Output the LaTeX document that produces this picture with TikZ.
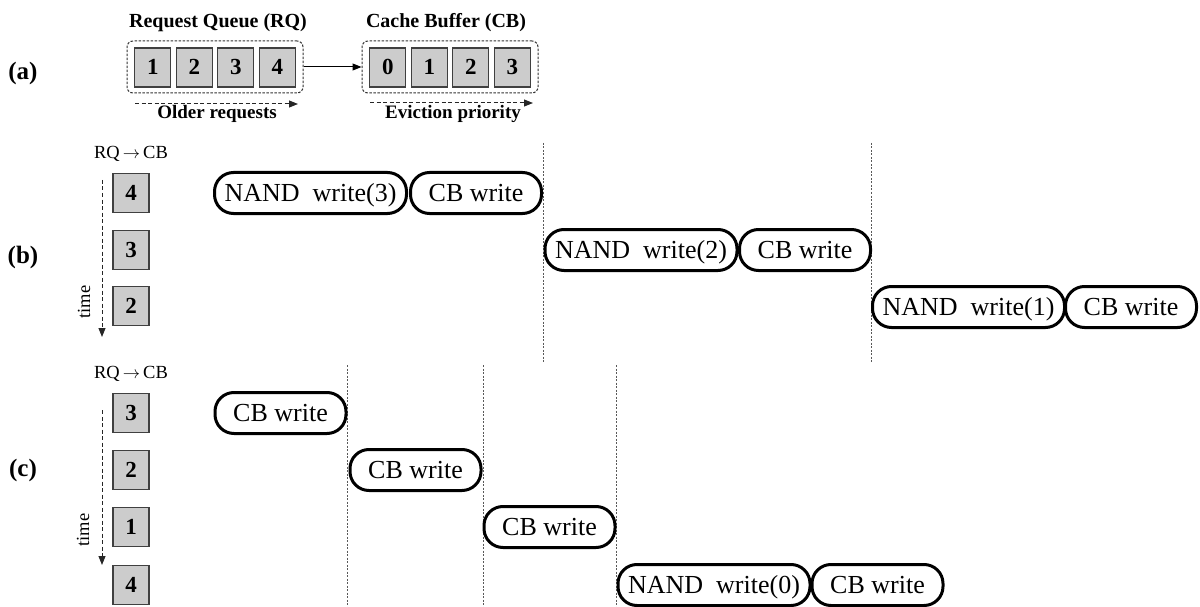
\documentclass[tikz,border=0pt]{standalone}
\usepackage{fontspec}
\setmainfont{Liberation Serif}
\usetikzlibrary{arrows.meta}
\begin{document}
\begin{tikzpicture}[x=1pt,y=-1pt,
 numbox/.style={draw=black!75, line width=1.2pt, fill=black!20, minimum width=36pt, minimum height=39pt, inner sep=0pt, text height=15pt, text depth=0pt, font=\fontsize{23}{23}\selectfont\bfseries},
 pill/.style={draw=black, fill=white, line width=3pt, rounded corners=19pt, minimum height=41pt, inner sep=0pt, text height=20pt, text depth=3pt, font=\fontsize{26}{26}\selectfont},
 nandpill/.style={pill, minimum width=192pt},
 cbpill/.style={pill, minimum width=131pt},
 queue/.style={draw=black!80, line width=1pt, dash pattern=on 2.5pt off 1.5pt, rounded corners=6pt, minimum width=176pt, minimum height=52pt, inner sep=0pt},
 sep/.style={draw=black!65, line width=0.8pt, dash pattern=on 2pt off 1.5pt},
 dasharrow/.style={draw=black!85, line width=1pt, dash pattern=on 4pt off 2.5pt, -{Triangle[length=9pt,width=7pt]}},
 solidarrow/.style={draw=black, line width=1pt, -{Triangle[length=9pt,width=7pt]}},
 lab/.style={font=\fontsize{25}{25}\selectfont\bfseries},
 title/.style={font=\fontsize{20}{20}\selectfont\bfseries, anchor=base},
 sub/.style={font=\fontsize{19}{19}\selectfont\bfseries, anchor=base},
 small/.style={font=\fontsize{18.5}{18.5}\selectfont}
]
\useasboundingbox (0,0) rectangle (1200,607);

% ---------------- (a)
\node[lab] (la) at (23,73) {(a)};
\node[title] (trq) at (218,28) {Request Queue (RQ)};
\node[title] (tcb) at (446,28) {Cache Buffer (CB)};
\node[queue] (rq) at (215,67) {};
\node[queue] (cb) at (450,67) {};
\node[numbox] (rq1) at (152.75,67.5) {1};
\node[numbox] (rq2) at (194.25,67.5) {2};
\node[numbox] (rq3) at (235.75,67.5) {3};
\node[numbox] (rq4) at (277.25,67.5) {4};
\node[numbox] (cb0) at (387.75,67.5) {0};
\node[numbox] (cb1) at (429.25,67.5) {1};
\node[numbox] (cb2) at (470.75,67.5) {2};
\node[numbox] (cb3) at (512.25,67.5) {3};
\draw[solidarrow] (rq.east) -- (cb.west);
\coordinate (ors) at (135,104);
\coordinate (ore) at (298,104);
\coordinate (evs) at (370,103);
\coordinate (eve) at (533,103);
\draw[dasharrow] (ors) -- (ore);
\draw[dasharrow] (evs) -- (eve);
\node[sub] (older) at (217,119) {Older requests};
\node[sub] (evict) at (453,119) {Eviction priority};

% ---------------- (b)
\node[lab] (lb) at (23,257) {(b)};
\node[small] (bhdr) at (131,154) {RQ\,$\rightarrow$\,CB};
\node[numbox] (b4) at (131,193) {4};
\node[numbox] (b3) at (131,250) {3};
\node[numbox] (b2) at (131,306) {2};
\coordinate (bts) at (102,180);
\coordinate (bte) at (102,337);
\draw[dasharrow] (bts) -- (bte);
\node[small, rotate=90] (btime) at (84,302) {time};

\coordinate (bs1t) at (543,143);
\coordinate (bs1b) at (543,362);
\coordinate (bs2t) at (871,143);
\coordinate (bs2b) at (871,362);
\draw[sep] (bs1t) -- (bs1b);
\draw[sep] (bs2t) -- (bs2b);

\node[nandpill] (bn3) at (310.5,193) {NAND\enspace write(3)};
\node[cbpill] (bc3) at (476,193) {CB write};
\node[nandpill] (bn2) at (641,250) {NAND\enspace write(2)};
\node[cbpill] (bc2) at (805,250) {CB write};
\node[nandpill] (bn1) at (968.5,307) {NAND\enspace write(1)};
\node[cbpill] (bc1) at (1131,307) {CB write};

% ---------------- (c)
\node[lab] (lc) at (23,470) {(c)};
\node[small] (chdr) at (131,374) {RQ\,$\rightarrow$\,CB};
\node[numbox] (c3) at (131,413) {3};
\node[numbox] (c2) at (131,470) {2};
\node[numbox] (c1) at (131,527) {1};
\node[numbox] (c4) at (131,585) {4};
\coordinate (cts) at (102,410);
\coordinate (cte) at (102,565);
\draw[dasharrow] (cts) -- (cte);
\node[small, rotate=90] (ctime) at (83,530) {time};

\coordinate (cs1t) at (347,365);
\coordinate (cs1b) at (347,607);
\coordinate (cs2t) at (483,365);
\coordinate (cs2b) at (483,607);
\coordinate (cs3t) at (616,365);
\coordinate (cs3b) at (616,607);
\draw[sep] (cs1t) -- (cs1b);
\draw[sep] (cs2t) -- (cs2b);
\draw[sep] (cs3t) -- (cs3b);

\node[cbpill] (cw1) at (280.5,413) {CB write};
\node[cbpill] (cw2) at (415.5,470) {CB write};
\node[cbpill] (cw3) at (549.5,527) {CB write};
\node[nandpill] (cn0) at (714,585) {NAND\enspace write(0)};
\node[cbpill] (cw4) at (877.5,585) {CB write};
\end{tikzpicture}
\end{document}
